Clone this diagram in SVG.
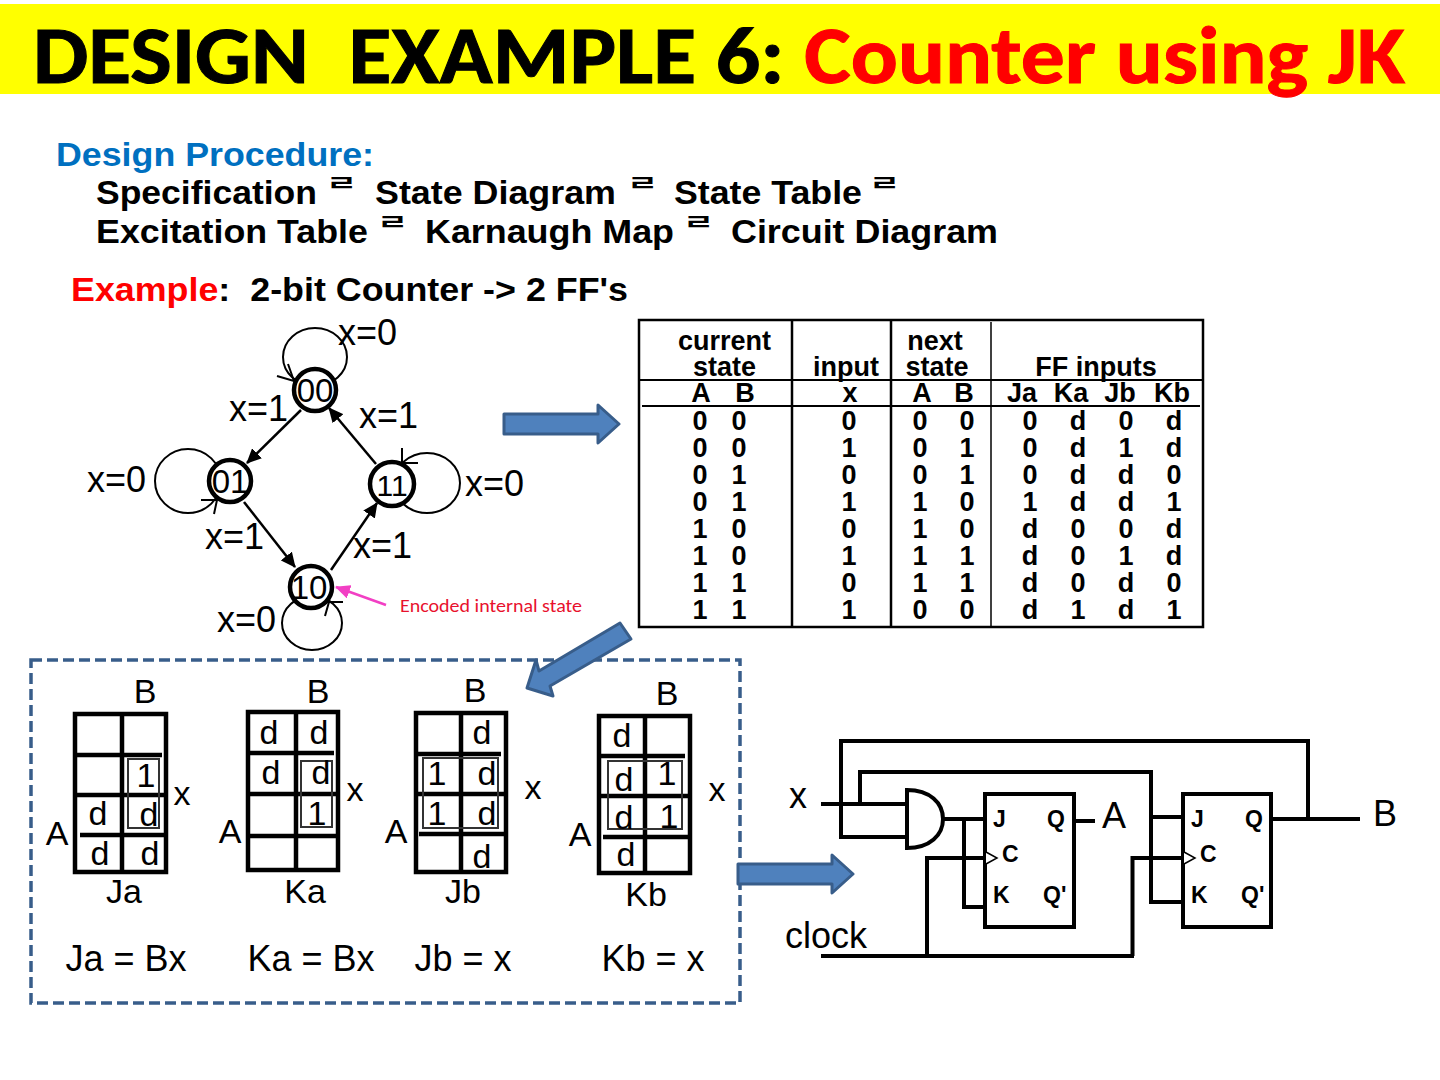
<svg xmlns="http://www.w3.org/2000/svg" width="1440" height="1080" viewBox="0 0 1440 1080">
<defs>
<marker id="ah" markerUnits="userSpaceOnUse" markerWidth="16" markerHeight="14" refX="14" refY="7" orient="auto"><path d="M0 0L15 7L0 14Z" fill="#000"/></marker>
<marker id="ahp" markerUnits="userSpaceOnUse" markerWidth="16" markerHeight="14" refX="14" refY="7" orient="auto"><path d="M0 0L15 7L0 14Z" fill="#f23fc4"/></marker>
</defs>
<style>
text{font-family:"Liberation Sans",Arial,sans-serif;fill:#000}
.h{font-size:33px;font-weight:bold}
.l{font-size:36px}
.n{font-size:33px;text-anchor:middle}
.k{font-size:34px;text-anchor:middle}
.e{font-size:36px;text-anchor:middle}
.t{font-size:27px;font-weight:bold;text-anchor:middle}
.f{font-size:23px;font-weight:bold}
.g{font-family:"Noto Sans CJK KR",sans-serif;font-size:34px;font-weight:bold}
.w{fill:none;stroke:#000;stroke-width:4}
.loop{fill:none;stroke:#000;stroke-width:2}
.st{fill:#fff;stroke:#000;stroke-width:4.5}
.ba{fill:#4f81bd;stroke:#385d8a;stroke-width:3;stroke-linejoin:round}
.mp{fill:none;stroke:#000;stroke-width:4.5}
.in{fill:none;stroke:#333;stroke-width:2}
.tb{fill:none;stroke:#000;stroke-width:2.5}
</style>
<rect x="0" y="4" width="1440" height="90" fill="#ff0"/>
<text x="33" y="83" xml:space="preserve" textLength="1372" lengthAdjust="spacingAndGlyphs" style="font-family:Carlito,Lato,sans-serif;font-size:80px;font-weight:bold;stroke:#000;stroke-width:1">DESIGN  EXAMPLE 6: <tspan style="fill:#f00;stroke:#f00">Counter using JK</tspan></text>

<g id="procedure">
<text class="h" x="56" y="166" textLength="318" lengthAdjust="spacingAndGlyphs" style="fill:#0070c0">Design Procedure:</text>
<text class="h" x="96" y="204" textLength="221" lengthAdjust="spacingAndGlyphs">Specification</text>
<text class="h" x="375" y="204" textLength="241" lengthAdjust="spacingAndGlyphs">State Diagram</text>
<text class="h" x="674" y="204" textLength="188" lengthAdjust="spacingAndGlyphs">State Table</text>
<text class="h" x="96" y="243" textLength="272" lengthAdjust="spacingAndGlyphs">Excitation Table</text>
<text class="h" x="425" y="243" textLength="249" lengthAdjust="spacingAndGlyphs">Karnaugh Map</text>
<text class="h" x="731" y="243" textLength="267" lengthAdjust="spacingAndGlyphs">Circuit Diagram</text>
<text class="g" transform="translate(326 191) scale(1 .62)">ㄹ</text>
<text class="g" transform="translate(627 191) scale(1 .62)">ㄹ</text>
<text class="g" transform="translate(869 191) scale(1 .62)">ㄹ</text>
<text class="g" transform="translate(377 230) scale(1 .62)">ㄹ</text>
<text class="g" transform="translate(683 230) scale(1 .62)">ㄹ</text>
<text class="h" x="71" y="301" xml:space="preserve" textLength="557" lengthAdjust="spacingAndGlyphs"><tspan style="fill:#f00">Example</tspan>:  2-bit Counter -&gt; 2 FF's</text>
</g>

<g id="connectors" fill="none">
<ellipse class="loop" cx="315" cy="357" rx="32" ry="29"/>
<path class="loop" d="M277 376L294 381L288 364"/>
<ellipse class="loop" cx="188" cy="481" rx="33" ry="32"/>
<path class="loop" d="M201 500H217L214 514"/>
<ellipse class="loop" cx="427" cy="483" rx="33" ry="30"/>
<path class="loop" d="M418 463H402V448"/>
<ellipse class="loop" cx="312" cy="623" rx="30" ry="27"/>
<path class="loop" d="M343 602H329L325 616"/>
<line x1="301" y1="410" x2="247" y2="463" stroke="#000" stroke-width="2.5" marker-end="url(#ah)"/>
<line x1="376" y1="464" x2="329" y2="408" stroke="#000" stroke-width="2.5" marker-end="url(#ah)"/>
<line x1="244" y1="502" x2="295" y2="567" stroke="#000" stroke-width="2.5" marker-end="url(#ah)"/>
<line x1="331" y1="570" x2="377" y2="503" stroke="#000" stroke-width="2.5" marker-end="url(#ah)"/>
<line x1="386" y1="605" x2="336" y2="587" stroke="#f23fc4" stroke-width="2.5" marker-end="url(#ahp)"/>
</g>

<g id="state-00"><circle class="st" cx="315" cy="390" r="21"/><text class="n" x="315" y="402">00</text></g>
<g id="state-01"><circle class="st" cx="230" cy="481" r="21"/><text class="n" x="230" y="493">01</text></g>
<g id="state-11"><circle class="st" cx="392" cy="484" r="22"/><text class="n" x="392" y="496" style="font-size:30px">11</text></g>
<g id="state-10"><circle class="st" cx="311" cy="587" r="21"/><text class="n" x="309" y="599">10</text></g>

<g id="state-labels">
<text class="l" x="338" y="345">x=0</text>
<text class="l" x="229" y="421">x=1</text>
<text class="l" x="359" y="428">x=1</text>
<text class="l" x="87" y="492">x=0</text>
<text class="l" x="465" y="496">x=0</text>
<text class="l" x="205" y="549">x=1</text>
<text class="l" x="353" y="558">x=1</text>
<text class="l" x="217" y="632">x=0</text>
<text x="400" y="612" textLength="182" lengthAdjust="spacingAndGlyphs" style="font-family:Carlito,Lato,sans-serif;font-size:18px;fill:#e8112d">Encoded internal state</text>
</g>

<path class="ba" d="M504 414H598V405L619 424L598 443V434H504Z"/>

<g id="state-table">
<rect class="tb" x="639" y="320" width="564" height="307"/>
<path class="tb" d="M792 320V627M891 320V627"/>
<path d="M991 322V627" stroke="#000" stroke-width="1.5"/>
<path d="M640 380H1202M642 406H1200" stroke="#000" stroke-width="1.8"/>
<text class="t" x="724.500" y="350">current</text><text class="t" x="724.500" y="376">state</text>
<text class="t" x="846" y="376">input</text><text class="t" x="935" y="350">next</text><text class="t" x="937" y="376">state</text>
<text class="t" x="1096" y="376">FF inputs</text>
<text class="t" x="701" y="402">A</text><text class="t" x="745" y="402">B</text><text class="t" x="850" y="402">x</text><text class="t" x="922" y="402">A</text><text class="t" x="964" y="402">B</text><text class="t" x="1022" y="402">Ja</text><text class="t" x="1071" y="402">Ka</text><text class="t" x="1120" y="402">Jb</text><text class="t" x="1172" y="402">Kb</text>
<g id="row1"><text class="t" x="700" y="430">0</text><text class="t" x="739" y="430">0</text><text class="t" x="849" y="430">0</text><text class="t" x="920" y="430">0</text><text class="t" x="967" y="430">0</text><text class="t" x="1030" y="430">0</text><text class="t" x="1078" y="430">d</text><text class="t" x="1126" y="430">0</text><text class="t" x="1174" y="430">d</text></g>
<g id="row2"><text class="t" x="700" y="457">0</text><text class="t" x="739" y="457">0</text><text class="t" x="849" y="457">1</text><text class="t" x="920" y="457">0</text><text class="t" x="967" y="457">1</text><text class="t" x="1030" y="457">0</text><text class="t" x="1078" y="457">d</text><text class="t" x="1126" y="457">1</text><text class="t" x="1174" y="457">d</text></g>
<g id="row3"><text class="t" x="700" y="484">0</text><text class="t" x="739" y="484">1</text><text class="t" x="849" y="484">0</text><text class="t" x="920" y="484">0</text><text class="t" x="967" y="484">1</text><text class="t" x="1030" y="484">0</text><text class="t" x="1078" y="484">d</text><text class="t" x="1126" y="484">d</text><text class="t" x="1174" y="484">0</text></g>
<g id="row4"><text class="t" x="700" y="511">0</text><text class="t" x="739" y="511">1</text><text class="t" x="849" y="511">1</text><text class="t" x="920" y="511">1</text><text class="t" x="967" y="511">0</text><text class="t" x="1030" y="511">1</text><text class="t" x="1078" y="511">d</text><text class="t" x="1126" y="511">d</text><text class="t" x="1174" y="511">1</text></g>
<g id="row5"><text class="t" x="700" y="538">1</text><text class="t" x="739" y="538">0</text><text class="t" x="849" y="538">0</text><text class="t" x="920" y="538">1</text><text class="t" x="967" y="538">0</text><text class="t" x="1030" y="538">d</text><text class="t" x="1078" y="538">0</text><text class="t" x="1126" y="538">0</text><text class="t" x="1174" y="538">d</text></g>
<g id="row6"><text class="t" x="700" y="565">1</text><text class="t" x="739" y="565">0</text><text class="t" x="849" y="565">1</text><text class="t" x="920" y="565">1</text><text class="t" x="967" y="565">1</text><text class="t" x="1030" y="565">d</text><text class="t" x="1078" y="565">0</text><text class="t" x="1126" y="565">1</text><text class="t" x="1174" y="565">d</text></g>
<g id="row7"><text class="t" x="700" y="592">1</text><text class="t" x="739" y="592">1</text><text class="t" x="849" y="592">0</text><text class="t" x="920" y="592">1</text><text class="t" x="967" y="592">1</text><text class="t" x="1030" y="592">d</text><text class="t" x="1078" y="592">0</text><text class="t" x="1126" y="592">d</text><text class="t" x="1174" y="592">0</text></g>
<g id="row8"><text class="t" x="700" y="619">1</text><text class="t" x="739" y="619">1</text><text class="t" x="849" y="619">1</text><text class="t" x="920" y="619">0</text><text class="t" x="967" y="619">0</text><text class="t" x="1030" y="619">d</text><text class="t" x="1078" y="619">1</text><text class="t" x="1126" y="619">d</text><text class="t" x="1174" y="619">1</text></g>
</g>

<rect x="31" y="660" width="709" height="343" fill="none" stroke="#385d8a" stroke-width="3.5" stroke-dasharray="11 5"/>
<path class="ba" d="M620 623L631 639L550 686L553 696L527 688L536 660L539 671Z"/>
<path class="ba" d="M738 864H832V855L853 874L832 893V884H738Z"/>

<g id="kmap-ja">
<rect class="mp" x="75" y="714" width="91" height="158"/>
<path class="mp" d="M122 714V872M75 755H162M75 795H166M80 835H166"/>
<rect class="in" x="128" y="759" width="31" height="69"/>
<text class="k" x="145" y="703">B</text><text class="k" x="57" y="845">A</text><text class="k" x="182" y="805">x</text><text class="k" x="124" y="903">Ja</text>
<text class="k" x="146" y="787">1</text><text class="k" x="98" y="825">d</text><text class="k" x="149" y="826">d</text><text class="k" x="100" y="865">d</text><text class="k" x="150" y="865">d</text>
<text class="e" x="126" y="971">Ja = Bx</text>
</g>
<g id="kmap-ka">
<rect class="mp" x="248" y="712" width="90" height="158"/>
<path class="mp" d="M296 712V870M248 753H334M248 794H338M248 836H338"/>
<rect class="in" x="301" y="761" width="31" height="66"/>
<text class="k" x="318" y="703">B</text><text class="k" x="230" y="843">A</text><text class="k" x="355" y="801">x</text><text class="k" x="305" y="903">Ka</text>
<text class="k" x="269" y="744">d</text><text class="k" x="319" y="744">d</text><text class="k" x="271" y="784">d</text><text class="k" x="321" y="784">d</text><text class="k" x="317" y="825">1</text>
<text class="e" x="311" y="971">Ka = Bx</text>
</g>
<g id="kmap-jb">
<rect class="mp" x="416" y="713" width="90" height="159"/>
<path class="mp" d="M461 713V872M416 754H501M416 794H506M419 834H506"/>
<rect class="in" x="423" y="758" width="75" height="70"/>
<text class="k" x="475" y="702">B</text><text class="k" x="396" y="843">A</text><text class="k" x="533" y="799">x</text><text class="k" x="463" y="903">Jb</text>
<text class="k" x="482" y="744">d</text><text class="k" x="437" y="785">1</text><text class="k" x="487" y="785">d</text><text class="k" x="437" y="825">1</text><text class="k" x="487" y="825">d</text><text class="k" x="482" y="868">d</text>
<text class="e" x="463" y="971">Jb = x</text>
</g>
<g id="kmap-kb">
<rect class="mp" x="599" y="716" width="91" height="157"/>
<path class="mp" d="M645 716V873M599 756H685M599 796H690M603 837H690"/>
<rect class="in" x="608" y="761" width="74" height="68"/>
<text class="k" x="667" y="705">B</text><text class="k" x="580" y="846">A</text><text class="k" x="717" y="801">x</text><text class="k" x="646" y="906">Kb</text>
<text class="k" x="622" y="747">d</text><text class="k" x="624" y="791">d</text><text class="k" x="667" y="785">1</text><text class="k" x="624" y="829">d</text><text class="k" x="669" y="828">1</text><text class="k" x="626" y="866">d</text>
<text class="e" x="653" y="971">Kb = x</text>
</g>

<g id="circuit-wires">
<path class="w" d="M907 837H841V741H1308V819"/>
<path class="w" d="M821 804H907M860 804V772H1151V902H1183M1153 817H1183"/>
<path class="w" d="M943 819H985M964 819V907H985M1076 821H1095"/>
<path class="w" d="M1273 819H1360"/>
<path class="w" d="M821 956H1134M927 956V858H985M1132.500 956V858H1183"/>
</g>
<g id="and-gate"><path class="w" d="M907 790C930 790 943 803 943 819C943 835 930 848 907 848Z"/></g>
<g id="ff-a">
<rect class="w" x="985" y="794" width="89" height="133"/>
<path d="M986 852L997 858L986 864" fill="#fff" stroke="#000" stroke-width="1.500"/>
<text class="f" x="993" y="827">J</text><text class="f" x="1047" y="827">Q</text><text class="f" x="1002" y="862">C</text><text class="f" x="993" y="903">K</text><text class="f" x="1043" y="903">Q'</text>
</g>
<g id="ff-b">
<rect class="w" x="1183" y="794" width="88" height="133"/>
<path d="M1184 852L1195 858L1184 864" fill="#fff" stroke="#000" stroke-width="1.500"/>
<text class="f" x="1191" y="827">J</text><text class="f" x="1245" y="827">Q</text><text class="f" x="1200" y="862">C</text><text class="f" x="1191" y="903">K</text><text class="f" x="1241" y="903">Q'</text>
</g>
<g id="circuit-labels">
<text class="l" x="789" y="808">x</text><text class="l" x="1102" y="828">A</text><text class="l" x="1373" y="826">B</text><text class="l" x="785" y="948">clock</text>
</g>
</svg>
